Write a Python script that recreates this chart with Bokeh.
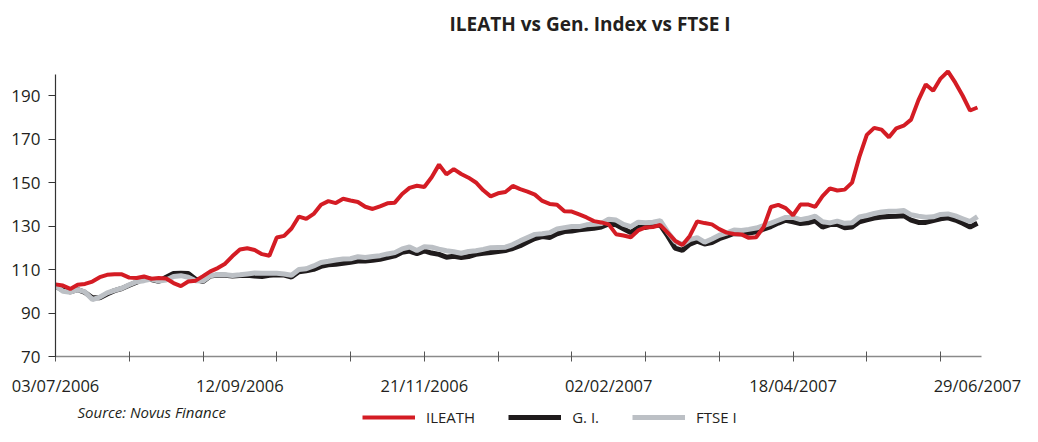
from bokeh.plotting import figure
from bokeh.layouts import column
from bokeh.models import FixedTicker, Label, Legend, LegendItem, Range1d, Title
from bokeh.embed import file_html
from bokeh.resources import INLINE

# trading-day index (every 2nd session), 03/07/2006 .. 29/06/2007
day_index = list(range(0, 251, 2))

ileath = [103.2, 102.7, 101.1, 103.0, 103.4, 104.5, 106.5, 107.6, 107.9, 107.8,
          106.3, 106.1, 106.8, 105.8, 106.1, 105.9, 103.8, 102.4, 104.5, 104.9,
          107.0, 109.2, 110.7, 112.7, 116.2, 119.2, 119.8, 119.0, 117.1, 116.4,
          124.8, 125.5, 128.9, 134.4, 133.3, 135.6, 139.8, 141.5, 140.6, 142.6,
          141.8, 141.1, 138.9, 137.9, 139.1, 140.5, 140.8, 144.8, 147.6, 148.6,
          148.0, 152.5, 158.3, 153.8, 156.2, 154.0, 152.3, 150.1, 146.5, 143.7,
          145.1, 145.7, 148.5, 147.0, 145.9, 144.5, 141.6, 140.2, 139.8, 136.8,
          136.7, 135.4, 134.0, 132.3, 131.7, 130.8, 126.3, 125.7, 124.9, 128.0,
          129.4, 129.6, 130.5, 127.0, 123.3, 121.3, 125.5, 132.2, 131.4, 130.8,
          128.6, 127.0, 126.4, 126.2, 124.6, 124.9, 129.5, 138.8, 139.8, 138.3,
          135.0, 139.9, 140.0, 138.9, 143.8, 147.4, 146.4, 146.8, 150.0, 162.0,
          172.0, 175.2, 174.4, 170.9, 175.0, 176.2, 179.0, 188.0, 195.2, 192.3,
          197.9, 201.2, 196.0, 190.0, 183.2, 184.6]

gen_index = [102.4, 100.5, 99.8, 100.8, 99.5, 97.0, 97.0, 98.8, 100.3, 101.3,
             102.8, 104.2, 106.0, 105.4, 104.6, 106.5, 108.2, 108.3, 108.2, 105.6,
             104.5, 107.0, 107.5, 107.4, 107.0, 107.3, 107.4, 107.0, 106.8, 107.4,
             107.6, 107.5, 106.6, 109.0, 109.5, 110.1, 111.5, 112.2, 112.5, 112.9,
             113.4, 113.9, 114.0, 114.3, 114.7, 115.5, 116.3, 118.0, 118.5, 117.3,
             118.6, 117.6, 117.0, 115.7, 116.1, 115.6, 116.0, 117.0, 117.5, 117.9,
             118.3, 118.8, 119.7, 121.0, 122.7, 124.3, 125.2, 124.8, 126.5, 127.5,
             127.8, 128.3, 128.7, 129.0, 129.6, 131.0, 130.6, 128.8, 127.0, 129.4,
             129.4, 130.3, 130.5, 125.5, 119.9, 118.8, 121.7, 123.1, 121.8, 122.4,
             124.2, 125.4, 126.6, 126.5, 126.8, 127.4, 128.6, 129.8, 131.4, 132.7,
             132.0, 131.2, 131.5, 132.4, 129.5, 130.7, 130.8, 129.3, 129.6, 132.0,
             132.9, 133.7, 134.2, 134.4, 134.5, 134.8, 132.8, 131.7, 131.7, 132.6,
             133.4, 133.8, 132.8, 131.3, 129.6, 131.3]

ftse_i = [102.6, 100.0, 99.6, 100.8, 99.7, 96.2, 97.3, 99.3, 100.4, 101.4,
          103.0, 104.4, 104.9, 105.6, 104.7, 105.2, 106.8, 107.2, 106.5, 104.9,
          104.8, 107.2, 107.7, 107.6, 107.3, 107.6, 108.0, 108.4, 108.3, 108.3,
          108.3, 108.0, 107.4, 110.0, 110.4, 111.7, 113.3, 113.8, 114.4, 114.9,
          115.0, 115.9, 115.6, 116.0, 116.4, 117.2, 117.8, 119.5, 120.4, 118.8,
          120.5, 120.3, 119.4, 118.7, 118.2, 117.5, 118.3, 118.7, 119.3, 120.1,
          120.2, 120.3, 121.5, 123.2, 124.7, 126.2, 126.5, 127.0, 128.7, 129.3,
          129.8, 129.8, 130.6, 130.9, 131.2, 133.2, 132.8, 130.8, 129.8, 131.8,
          131.5, 131.8, 132.5, 127.3, 122.9, 121.6, 123.8, 124.7, 122.6, 124.1,
          125.8, 126.8, 128.2, 128.0, 128.5, 129.1, 130.2, 131.4, 132.7, 134.0,
          134.0, 133.0, 133.6, 134.6, 132.0, 131.5, 132.3, 131.3, 131.6, 134.2,
          134.9, 135.8, 136.5, 136.8, 136.9, 137.2, 135.2, 134.6, 134.1, 134.3,
          135.4, 135.6, 134.7, 133.4, 132.1, 134.4]

tick_positions = list(range(0, 241, 20))
label_positions = [0, 50, 100, 150, 200, 250]
tick_labels = ["03/07/2006", "12/09/2006", "21/11/2006",
               "02/02/2007", "18/04/2007", "29/06/2007"]
y_ticks = [70, 90, 110, 130, 150, 170, 190]

series_names = ["ILEATH", "G. I.", "FTSE I"]
series_values = [ileath, gen_index, ftse_i]
series_colors = ["#d41c24", "#1f1b1c", "#bcc0c5"]
series_widths = [4, 5, 5]

FONT = "Open Sans"
TXT = "#231f20"

# ---------------- main chart ----------------
p = figure(width=1022, height=402, output_backend="svg", toolbar_location=None,
           x_range=Range1d(0, 251.1), y_range=Range1d(70, 203),
           min_border_left=55, min_border_right=41, min_border_top=67,
           min_border_bottom=46)
p.outline_line_color = None
p.grid.visible = False
p.background_fill_color = "white"
p.border_fill_color = "white"

p.title = Title(text="ILEATH vs Gen. Index vs FTSE I", align="left", offset=394,
                standoff=4, text_font=FONT, text_font_size="19px",
                text_font_style="bold", text_color=TXT)
p.add_layout(Title(text=" ", text_font_size="10px", standoff=16), "above")

# draw order: G. I. under FTSE I under ILEATH
for k in (1, 2, 0):
    p.line(day_index, series_values[k], line_color=series_colors[k],
           line_width=series_widths[k])

xa = p.xaxis[0]
xa.ticker = FixedTicker(ticks=label_positions, minor_ticks=tick_positions)
xa.major_label_overrides = {pos: lab for pos, lab in zip(label_positions, tick_labels)}
xa.major_tick_line_color = None
xa.major_tick_in = 0
xa.major_tick_out = 0
xa.minor_tick_in = 5
xa.minor_tick_out = 5
xa.minor_tick_line_color = "#555555"
xa.minor_tick_line_width = 1
xa.axis_line_color = "#8a8a8a"
xa.axis_line_width = 1.5
xa.major_label_text_font = FONT
xa.major_label_text_font_size = "16.5px"
xa.major_label_text_color = TXT
xa.major_label_standoff = 12

ya = p.yaxis[0]
ya.ticker = FixedTicker(ticks=y_ticks)
ya.bounds = (70, 200)
ya.major_tick_in = 0
ya.major_tick_out = 7
ya.minor_tick_line_color = None
ya.major_tick_line_color = "#333333"
ya.axis_line_color = "#333333"
ya.axis_line_width = 1.2
ya.major_label_text_font = FONT
ya.major_label_text_font_size = "17px"
ya.major_label_text_color = TXT
ya.major_label_standoff = 8

# ---------------- footer: source note + legend ----------------
f = figure(width=1022, height=24, output_backend="svg", toolbar_location=None,
           x_range=Range1d(0, 1), y_range=Range1d(0, 1),
           min_border_left=0, min_border_right=0, min_border_top=0,
           min_border_bottom=0, x_axis_location=None, y_axis_location=None)
f.outline_line_color = None
f.grid.visible = False
f.background_fill_color = "white"
f.border_fill_color = "white"

f.add_layout(Label(x=22, y=15, x_units="screen", y_units="screen",
                   text="Source: Novus Finance", text_align="left",
                   text_baseline="middle", text_font=FONT, text_font_size="15px",
                   text_font_style="italic", text_color=TXT))

# legend keys: same series, drawn in the footer (outside its visible range)
items = []
for name, vals, col, w in zip(series_names, series_values, series_colors, series_widths):
    r = f.line(day_index, vals, line_color=col, line_width=w)
    items.append(LegendItem(label=name, renderers=[r]))

legend = Legend(items=items, location=(307, -1), orientation="horizontal",
                glyph_width=53, glyph_height=18, label_height=18,
                label_standoff=11, spacing=33,
                padding=0, margin=0, border_line_color=None,
                background_fill_alpha=0, label_text_font=FONT,
                label_text_font_size="15px", label_text_color=TXT)
f.add_layout(legend)

layout = column(p, f, spacing=0)
open("out.html", "w").write(file_html(layout, INLINE))
